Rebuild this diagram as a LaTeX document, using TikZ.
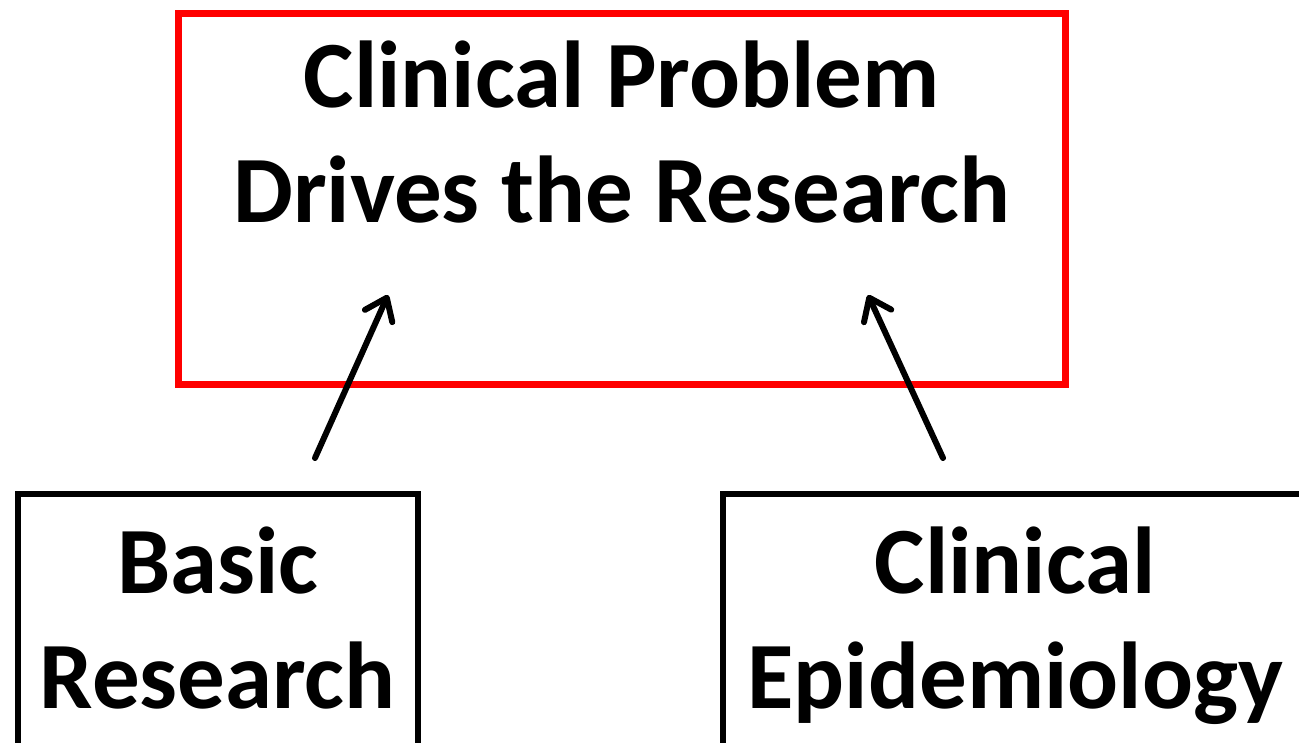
\documentclass[tikz,border=0pt]{standalone}
\usepackage{fontspec}
\setmainfont{Carlito}
\usepackage{tikz}
\usetikzlibrary{positioning,arrows.meta}

\begin{document}
\begin{tikzpicture}[
  x=1pt, y=-1pt,
  font=\fontsize{95}{115}\selectfont\bfseries,
  problem/.style={draw=red, line width=6.5pt, minimum width=887pt, minimum height=371pt, anchor=north west},
  field/.style={draw, line width=5.5pt, align=center, anchor=north west, minimum height=270pt,
    text height=185pt, text depth=25pt, inner sep=0pt},
  heading/.style={align=center, inner sep=0pt},
  arr/.style={-{Straight Barb[length=20pt, width=30pt, round]}, line width=6pt, line cap=round}
]
\useasboundingbox (0,0) rectangle (1299,742);
\clip (0,0) rectangle (1299,742);
% the clinical question on top
\node[problem] (prob) at (175,10) {};
\node[heading, below=31pt of prob.north] (probtext) {Clinical Problem\\Drives the Research};
% the two feeding fields, cut by the page edge
\node[field, minimum width=400pt] (basic) at (15,491) {Basic\\Research};
\node[field, minimum width=585pt] (epi) at (720,491) {Clinical\\Epidemiology};
% arrows up into the problem box
\coordinate (bfrom) at (315,458);
\coordinate (bto) at (388,295);
\coordinate (efrom) at (943,458);
\coordinate (eto) at (868,295);
\draw[arr] (bfrom) -- (bto);
\draw[arr] (efrom) -- (eto);
\end{tikzpicture}
\end{document}
